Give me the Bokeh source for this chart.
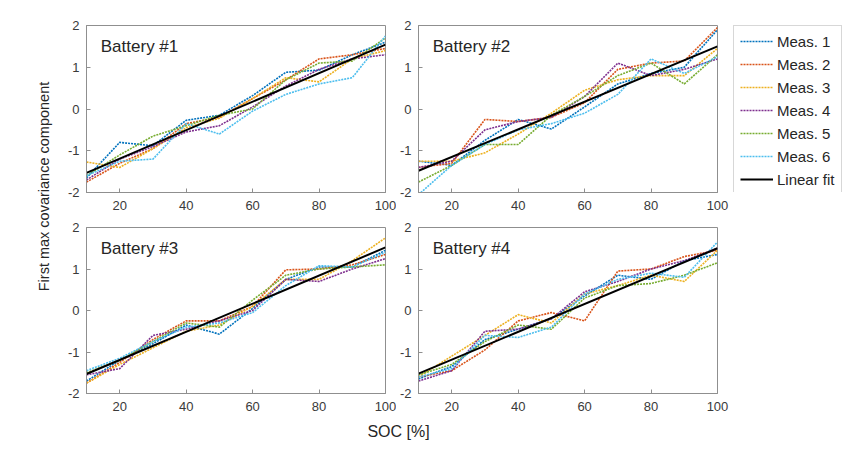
from math import pi
from bokeh.plotting import figure
from bokeh.layouts import row, column
from bokeh.models import Range1d, FixedTicker, Label, Legend, LegendItem
from bokeh.embed import file_html
from bokeh.resources import INLINE

# ---------------- data ----------------
soc = [10, 20, 30, 40, 50, 60, 70, 80, 90, 100]
fit_soc = [10, 100]

# Battery #1
b1_m1 = [-1.65, -0.80, -0.88, -0.27, -0.15, 0.32, 0.88, 0.93, 1.30, 1.60]
b1_m2 = [-1.75, -1.30, -0.95, -0.35, -0.20, 0.25, 0.70, 1.20, 1.30, 1.45]
b1_m3 = [-1.27, -1.40, -0.95, -0.45, -0.22, 0.25, 0.75, 0.65, 1.20, 1.40]
b1_m4 = [-1.70, -1.20, -0.90, -0.55, -0.40, 0.05, 0.55, 0.95, 1.20, 1.30]
b1_m5 = [-1.60, -1.10, -0.65, -0.40, -0.15, 0.00, 0.70, 1.10, 1.15, 1.70]
b1_m6 = [-1.60, -1.25, -1.20, -0.35, -0.60, -0.05, 0.35, 0.60, 0.75, 1.75]
b1_fit = [-1.53, 1.54]

# Battery #2
b2_m1 = [-1.25, -1.35, -0.75, -0.25, -0.48, 0.05, 0.60, 0.85, 1.00, 1.90]
b2_m2 = [-1.40, -1.30, -0.25, -0.30, -0.20, 0.15, 0.95, 1.10, 1.15, 1.95]
b2_m3 = [-1.25, -1.25, -1.05, -0.60, -0.10, 0.45, 0.70, 0.80, 0.80, 1.45]
b2_m4 = [-1.40, -1.25, -0.50, -0.30, -0.20, 0.30, 1.10, 0.80, 0.95, 1.20]
b2_m5 = [-1.75, -1.35, -0.85, -0.85, -0.15, 0.30, 0.80, 1.10, 0.60, 1.30]
b2_m6 = [-2.05, -1.35, -0.85, -0.50, -0.35, -0.10, 0.35, 1.20, 0.85, 1.25]
b2_fit = [-1.48, 1.50]

# Battery #3
b3_m1 = [-1.70, -1.20, -0.80, -0.35, -0.57, 0.05, 0.75, 1.05, 1.05, 1.45]
b3_m2 = [-1.75, -1.25, -0.70, -0.25, -0.25, 0.10, 0.98, 1.00, 1.10, 1.35]
b3_m3 = [-1.75, -1.30, -0.90, -0.50, -0.35, 0.10, 0.75, 0.75, 1.20, 1.75]
b3_m4 = [-1.55, -1.40, -0.60, -0.45, -0.25, 0.00, 0.75, 0.70, 1.00, 1.25]
b3_m5 = [-1.50, -1.20, -0.75, -0.30, -0.40, 0.25, 0.85, 1.00, 1.05, 1.10]
b3_m6 = [-1.45, -1.15, -0.75, -0.40, -0.30, -0.05, 0.60, 1.08, 1.05, 1.40]
b3_fit = [-1.53, 1.52]

# Battery #4
b4_m1 = [-1.65, -1.35, -0.70, -0.45, -0.20, 0.35, 0.85, 0.75, 1.20, 1.35]
b4_m2 = [-1.60, -1.45, -0.95, -0.25, -0.05, -0.25, 0.95, 1.00, 1.30, 1.45]
b4_m3 = [-1.60, -1.10, -0.60, -0.10, -0.30, 0.40, 0.60, 0.85, 0.70, 1.45]
b4_m4 = [-1.70, -1.45, -0.50, -0.45, -0.20, 0.45, 0.70, 1.00, 1.20, 1.50]
b4_m5 = [-1.55, -1.30, -0.75, -0.35, -0.45, 0.30, 0.60, 0.65, 0.85, 1.15]
b4_m6 = [-1.60, -1.40, -0.60, -0.65, -0.40, 0.40, 0.75, 0.90, 0.80, 1.65]
b4_fit = [-1.52, 1.50]

meas_labels = ["Meas. 1", "Meas. 2", "Meas. 3", "Meas. 4", "Meas. 5", "Meas. 6"]
fit_label = "Linear fit"
battery_titles = ["Battery #1", "Battery #2", "Battery #3", "Battery #4"]
x_ticks = [20, 40, 60, 80, 100]
y_ticks = [-2, -1, 0, 1, 2]
y_tick_labels = ["-2", "-1", "0", "1", "2"]
y_title = "First max covariance component"
x_title = "SOC [%]"

# ---------------- style ----------------
FONT = "Liberation Sans"
COLORS = ["#0072BD", "#D95319", "#EDB120", "#7E2F8E", "#77AC30", "#4DBEEE"]
AX = "#8f8f8f"
TXT = "#3a3a3a"


def make_panel(width, height, bl, br, bt, bb, title, series, fit):
    p = figure(width=width, height=height, output_backend="svg",
               toolbar_location=None,
               x_range=Range1d(10, 100), y_range=Range1d(-2, 2),
               min_border_left=bl, min_border_right=br,
               min_border_top=bt, min_border_bottom=bb)
    p.background_fill_color = "white"
    p.border_fill_color = "white"
    p.outline_line_color = AX
    p.outline_line_width = 1
    for g in p.grid:
        g.visible = False
    p.xaxis.ticker = FixedTicker(ticks=x_ticks)
    p.yaxis.ticker = FixedTicker(ticks=y_ticks)
    p.yaxis.major_label_overrides = {t: s for t, s in zip(y_ticks, y_tick_labels)}
    for ax in (p.xaxis[0], p.yaxis[0]):
        ax.axis_line_color = AX
        ax.major_tick_line_color = AX
        ax.major_tick_in = 4
        ax.major_tick_out = 0
        ax.minor_tick_line_color = None
        ax.major_label_text_font = FONT
        ax.major_label_text_font_size = "13px"
        ax.major_label_text_color = TXT
    p.xaxis.major_label_standoff = 8
    p.yaxis.major_label_standoff = 7
    for ys, c in zip(series, COLORS):
        p.line(soc, ys, line_color=c, line_width=1.6, line_dash="2 1")
    p.line(fit_soc, fit, line_color="black", line_width=2)
    p.add_layout(Label(x=14.3, y=1.5, text=title, text_font=FONT,
                       text_font_size="17px", text_color="#262626",
                       text_baseline="middle", text_align="left"))
    return p


p1 = make_panel(341, 214, 31, 11, 25, 22, battery_titles[0],
                [b1_m1, b1_m2, b1_m3, b1_m4, b1_m5, b1_m6], b1_fit)
p2 = make_panel(334, 214, 20, 13, 25, 22, battery_titles[1],
                [b2_m1, b2_m2, b2_m3, b2_m4, b2_m5, b2_m6], b2_fit)
p3 = make_panel(341, 206, 31, 11, 13, 27, battery_titles[2],
                [b3_m1, b3_m2, b3_m3, b3_m4, b3_m5, b3_m6], b3_fit)
p4 = make_panel(334, 206, 20, 13, 13, 27, battery_titles[3],
                [b4_m1, b4_m2, b4_m3, b4_m4, b4_m5, b4_m6], b4_fit)

# ---------------- legend figure ----------------
lf = figure(width=134, height=214, output_backend="svg", toolbar_location=None,
            x_range=Range1d(0, 1), y_range=Range1d(0, 1),
            x_axis_location=None, y_axis_location=None,
            min_border_left=3, min_border_top=24,
            min_border_right=0, min_border_bottom=0)
lf.outline_line_color = None
for g in lf.grid:
    g.visible = False
items = []
for lab, c in zip(meas_labels, COLORS):
    r = lf.line([-5, -4], [-5, -4], line_color=c, line_width=1.6, line_dash="2 1")
    items.append(LegendItem(label=lab, renderers=[r]))
rf = lf.line([-5, -4], [-5, -4], line_color="black", line_width=2)
items.append(LegendItem(label=fit_label, renderers=[rf]))
leg = Legend(items=items, location="top_left", margin=0, padding=6,
             spacing=5, label_height=18, glyph_height=18, glyph_width=33,
             label_standoff=4, label_text_font=FONT,
             label_text_font_size="15px", label_text_color="#262626",
             border_line_color="#b0b0b0", border_line_width=1,
             background_fill_color="white", background_fill_alpha=1)
lf.add_layout(leg)

# ---------------- axis title figures ----------------
yl = figure(width=55, height=449, output_backend="svg", toolbar_location=None,
            x_range=Range1d(0, 55), y_range=Range1d(0, 449),
            x_axis_location=None, y_axis_location=None,
            min_border=0)
yl.outline_line_color = None
for g in yl.grid:
    g.visible = False
yl.add_layout(Label(x=43, y=263, text=y_title, angle=pi / 2,
                    text_font=FONT, text_font_size="14.5px", text_color="#262626",
                    text_align="center", text_baseline="middle"))

xl = figure(width=675, height=29, output_backend="svg", toolbar_location=None,
            x_range=Range1d(0, 675), y_range=Range1d(0, 29),
            x_axis_location=None, y_axis_location=None,
            min_border=0)
xl.outline_line_color = None
for g in xl.grid:
    g.visible = False
xl.add_layout(Label(x=343, y=18, text=x_title, text_font=FONT,
                    text_font_size="16px", text_color="#262626",
                    text_align="center", text_baseline="middle"))

layout = row(yl, column(row(p1, p2, lf), row(p3, p4), xl))

open("out.html", "w").write(file_html(layout, INLINE))
